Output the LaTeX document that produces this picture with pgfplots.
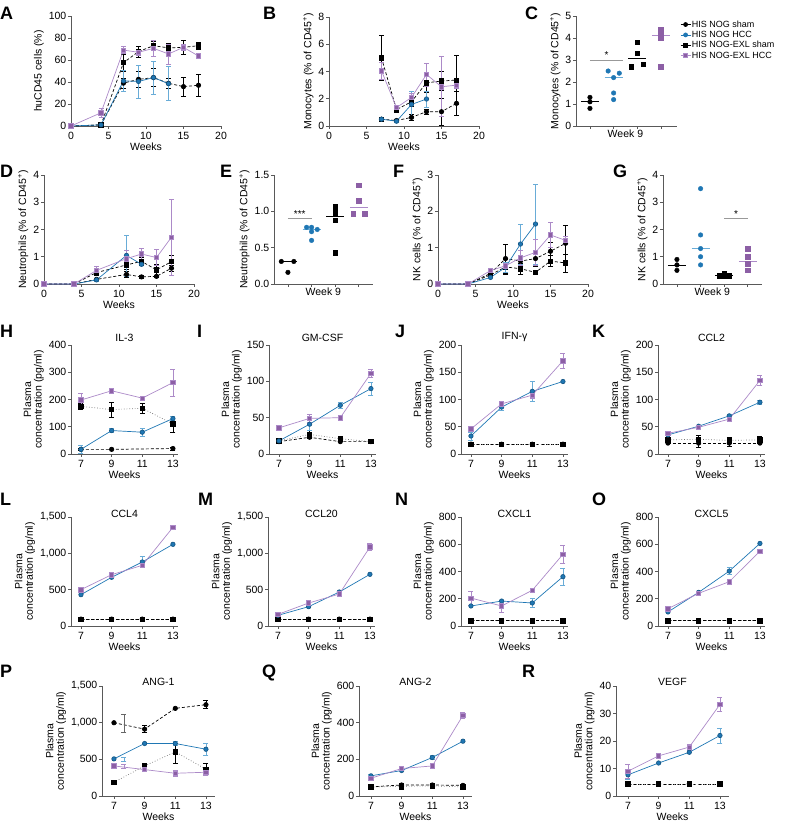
\documentclass[border=0pt]{standalone}
\usepackage{pgfplots}
\pgfplotsset{compat=1.18}
\usepackage{fontspec}
\setmainfont{Liberation Sans}
\definecolor{bl}{RGB}{31,119,180}
\definecolor{blL}{RGB}{105,172,215}
\definecolor{pu}{RGB}{140,95,165}
\definecolor{puL}{RGB}{172,138,200}
\newcommand{\fs}[1]{\fontsize{#1}{#1}\selectfont}
\pgfplotsset{
 base/.style={scale only axis, anchor=south west, clip=false,
   axis x line*=bottom, axis y line*=left,
   axis line style={black!65, line width=0.7pt},
   every tick/.style={black!65, line width=0.7pt},
   tick align=outside, major tick length=3pt,
   tick label style={font=\fs{10.5}},
   every y tick label/.append style={inner sep=1.5pt},
   label style={font=\fs{10.5}},
   title style={font=\fs{10.5}, yshift=-6.5pt},
   /pgf/number format/assume math mode=true,
   /pgf/number format/1000 sep={,},
   scaled y ticks=false, ymin=0,
   xlabel style={yshift=4pt},
 },
 tc/.style={base, width=150pt, height=109pt, xmin=0, xmax=20, xtick={0,5,10,15,20}, xlabel={Weeks}},
 pc/.style={base, width=107pt, height=109pt, xmin=6.35, xmax=13.33, xtick={7,9,11,13}, xlabel={Weeks}, ylabel={Plasma\\concentration (pg/ml)}, ylabel style={align=center}},
 pc5/.style={pc, width=113pt, height=110pt, xmin=6.22, xmax=13.59},
 sc/.style={base, width=99pt, height=109pt, xmin=0.41, xmax=4.6, xtick={1,2,3,4}, xticklabels={}, extra x ticks={2.5}, extra x tick labels={Week 9}, extra x tick style={major tick length=0pt}},
 eb/.style={error bars/y dir=both, error bars/y explicit, error bars/error bar style={solid, line width=0.6pt, #1}, error bars/error mark options={rotate=90, mark size=2.5pt, line width=0.6pt, solid, #1}},
 g1/.style={black, line width=0.7pt, dash pattern=on 3pt off 2pt, mark=*, mark size=2.2pt, mark options={solid, fill=black}, eb=black},
 g2/.style={bl, line width=0.7pt, mark=*, mark size=2.2pt, mark options={solid, fill=bl, draw=bl!75!black}, eb=blL},
 g3/.style={black, line width=0.7pt, dash pattern=on 3pt off 2pt, mark=square*, mark size=2.2pt, mark options={solid, fill=black}, eb=black},
 g3d/.style={black!55, line width=0.7pt, dotted, mark=square*, mark size=2.2pt, mark options={solid, fill=black, draw=black}, eb=black},
 g4/.style={puL, line width=0.7pt, mark=square*, mark size=2.2pt, mark options={solid, fill=pu, draw=puL}, eb=puL},
 ge/.style={only marks, mark=*, mark size=0pt, mark options={draw=none, fill=none}, eb=#1},
 m1/.style={only marks, mark=*, mark size=2.3pt, black},
 m2/.style={only marks, mark=*, mark size=2.3pt, bl, mark options={fill=bl}},
 m3/.style={only marks, mark=square*, mark size=2.3pt, black},
 m4/.style={only marks, mark=square*, mark size=2.3pt, pu, mark options={fill=pu, draw=pu}},
 med/.style={line width=0.8pt, no marks, forget plot},
 sig/.style={black!40, line width=0.7pt, no marks, forget plot},
}
\begin{document}
\begin{tikzpicture}
\useasboundingbox (0,0) rectangle (787pt,833pt);
% ---------------- A
\begin{axis}[tc, at={(71pt,707pt)}, height=110pt, ymax=100, ytick={0,20,...,100}, ylabel={huCD45 cells (\%)}]
\addplot[g1] coordinates {(0,0) (4,1) (7,39) +- (0,4.5) (9,42.4) +- (0,7) (11,44) +- (0,8) (13,38.8) +- (0,4.5) (15,35.8) +- (0,8.8) (17,37) +- (0,10)};
\addplot[g3] coordinates {(0,0) (4,1) (7,57.6) +- (0,8) (9,67.6) +- (0,5) (11,73) +- (0,4) (13,71) +- (0,4) (15,71.5) +- (0,6) (17,73) +- (0,3.5)};
\addplot[g2] coordinates {(0,0) (4,1) (7,41) +- (0,9.5) (9,40.5) +- (0,15) (11,44) +- (0,15) (13,38.5) +- (0,15.5)};
\addplot[g4] coordinates {(0,0) (4,12) +- (0,4) (7,69) +- (0,3) (9,67) +- (0,3) (11,70.6) +- (0,7) (13,65.5) +- (0,9) (15,71.5) +- (0,3) (17,63.6) +- (0,2)};
\end{axis}
% ---------------- B
\begin{axis}[tc, at={(329pt,707pt)}, ymax=8, ytick={0,2,...,8}, ylabel={Monocytes (\% of CD45\textsuperscript{+})}]
\addplot[g1] coordinates {(7,0.5) +- (0,0.15) (9,0.4) +- (0,0.1) (11,0.63) +- (0,0.2) (13,1.05) +- (0,0.2) (15,1.05) +- (0,1.0) (17,1.66) +- (0,0.9)};
\addplot[g3] coordinates {(7,5.0) +- (0,1.65) (9,1.2) +- (0,0.2) (11,1.78) +- (0,0.3) (13,3.17) +- (0,0.7) (15,3.3) +- (0,0.7) (17,3.37) +- (0,1.8)};
\addplot[g2] coordinates {(7,0.5) +- (0,0.1) (9,0.35) +- (0,0.1) (11,1.58) +- (0,1.0) (13,1.98) +- (0,0.6)};
\addplot[g4] coordinates {(7,4.05) +- (0,0.6) (9,1.35) +- (0,0.2) (11,2.1) +- (0,0.3) (13,3.78) +- (0,0.85) (15,2.88) +- (0,2.2) (17,3.0) +- (0,0.25)};
\end{axis}
% ---------------- C
\begin{axis}[sc, at={(576pt,707pt)}, width=101pt, height=110pt, xmax=4.68, ymax=5, ytick={0,...,5}, ylabel={Monocytes (\% of CD45\textsuperscript{+})},
  legend style={at={(1.03,0.97)}, anchor=north west, draw=none, fill=none, font=\fs{9}, inner sep=0pt, row sep=0.5pt, nodes={inner sep=1pt}},
  legend cell align=left,
  legend image code/.code={\draw[mark repeat=2,mark phase=2,#1] plot coordinates {(0pt,0pt) (5pt,0pt) (10pt,0pt)};}]
\addlegendimage{black, line width=0.7pt, mark=*, mark size=2pt, mark options={fill=black}}
\addlegendimage{bl, line width=0.7pt, mark=*, mark size=2pt, mark options={fill=bl}}
\addlegendimage{black, line width=0.7pt, mark=square*, mark size=2pt, mark options={fill=black}}
\addlegendimage{puL, line width=0.7pt, mark=square*, mark size=2pt, mark options={fill=pu, draw=puL}}
\legend{HIS NOG sham, HIS NOG HCC, HIS NOG-EXL sham, HIS NOG-EXL HCC}
\addplot[m1] coordinates {(1,1.3) (1,1.1) (1,0.8)};
\addplot[m2] coordinates {(1.77,2.5) (2.24,2.4) (2,2.2) (2,1.5) (2,1.2)};
\addplot[m3] coordinates {(3,3.8) (3,3.3) (2.75,2.7) (3.25,2.8)};
\addplot[m4] coordinates {(4,4.4) (4,4.2) (4,4.0) (4,2.7)};
\addplot[med, black] coordinates {(0.62,1.1) (1.38,1.1)};
\addplot[med, blL] coordinates {(1.62,2.2) (2.38,2.2)};
\addplot[med, black] coordinates {(2.62,3.05) (3.38,3.05)};
\addplot[med, puL] coordinates {(3.62,4.1) (4.38,4.1)};
\addplot[sig] coordinates {(1,3.0) (2.38,3.0)};
\node[font=\fs{10}, anchor=south, inner sep=1pt] at (axis cs:1.7,3.0) {*};
\end{axis}
% ---------------- D
\begin{axis}[tc, at={(44pt,549pt)}, ymax=4, ytick={0,...,4}, ylabel={Neutrophils (\% of CD45\textsuperscript{+})}]
\addplot[g1] coordinates {(0,0) (4,0) (7,0.17) (11,0.35) +- (0,0.1) (13,0.26) +- (0,0.05) (15,0.28) +- (0,0.05) (17,0.58) +- (0,0.1)};
\addplot[g3] coordinates {(0,0) (4,0) (7,0.42) +- (0,0.1) (11,0.7) +- (0,0.15) (13,0.83) +- (0,0.15) (15,0.52) +- (0,0.2) (17,0.82) +- (0,0.23)};
\addplot[g2] coordinates {(0,0) (4,0) (7,0.15) +- (0,0.05) (11,1.05) +- (0,0.75) (13,0.72)};
\addplot[g4] coordinates {(0,0) (4,0) (7,0.5) +- (0,0.15) (11,0.93) +- (0,0.3) (13,1.1) +- (0,0.2) (15,0.97) +- (0,0.3) (17,1.72) +- (0,1.4)};
\end{axis}
% ---------------- E
\begin{axis}[sc, at={(274pt,549pt)}, ymax=1.5, ytick={0,0.5,1,1.5}, yticklabel style={/pgf/number format/.cd, fixed, fixed zerofill, precision=1}, ylabel={Neutrophils (\% of CD45\textsuperscript{+})}]
\addplot[m1] coordinates {(0.72,0.31) (1.25,0.31) (1,0.16)};
\addplot[m2] coordinates {(1.79,0.78) (2,0.78) (2,0.72) (2.24,0.75) (2,0.6)};
\addplot[m3] coordinates {(3,1.06) (3,0.98) (3,0.88) (3,0.43)};
\addplot[m4] coordinates {(4,1.36) (4,1.15) (3.76,0.97) (4.24,0.97)};
\addplot[med, black] coordinates {(0.62,0.31) (1.38,0.31)};
\addplot[med, blL] coordinates {(1.62,0.75) (2.38,0.75)};
\addplot[med, black] coordinates {(2.62,0.93) (3.38,0.93)};
\addplot[med, puL] coordinates {(3.62,1.06) (4.38,1.06)};
\addplot[sig] coordinates {(1,0.9) (2,0.9)};
\node[font=\fs{10}, anchor=south, inner sep=1pt] at (axis cs:1.5,0.9) {***};
\end{axis}
% ---------------- F
\begin{axis}[tc, at={(438pt,549pt)}, ymax=3, ytick={0,...,3}, ylabel={NK cells (\% of CD45\textsuperscript{+})}]
\addplot[g1] coordinates {(0,0) (4,0) (7,0.29) (9,0.7) +- (0,0.4) (11,0.63) +- (0,0.15) (13,0.7) +- (0,0.2) (15,0.9) +- (0,0.25) (17,1.12) +- (0,0.5)};
\addplot[g3] coordinates {(0,0) (4,0) (7,0.25) (9,0.47) +- (0,0.2) (11,0.42) +- (0,0.15) (13,0.32) (15,0.63) +- (0,0.15) (17,0.58) +- (0,0.25)};
\addplot[g2] coordinates {(0,0) (4,0) (7,0.18) (9,0.46) +- (0,0.15) (11,1.1) +- (0,0.55) (13,1.65) +- (0,1.1)};
\addplot[g4] coordinates {(0,0) (4,0) (7,0.37) (9,0.5) (11,0.72) +- (0,0.2) (13,0.87) +- (0,0.35) (15,1.35) +- (0,0.35) (17,1.2) +- (0,0.1)};
\end{axis}
% ---------------- G
\begin{axis}[sc, at={(663pt,549pt)}, ymax=4, ytick={0,...,4}, ylabel={NK cells (\% of CD45\textsuperscript{+})}]
\addplot[m1] coordinates {(1,0.9) (1,0.7) (1,0.5)};
\addplot[m2] coordinates {(2,3.5) (2,1.8) (2,1.3) (2,1.0) (2,0.7)};
\addplot[m3] coordinates {(2.8,0.3) (3,0.38) (3,0.3) (3.2,0.3)};
\addplot[m4] coordinates {(4,1.3) (4,1.0) (4,0.75) (4,0.5)};
\addplot[med, black] coordinates {(0.62,0.7) (1.38,0.7)};
\addplot[med, blL] coordinates {(1.62,1.3) (2.38,1.3)};
\addplot[med, black] coordinates {(2.62,0.3) (3.38,0.3)};
\addplot[med, puL] coordinates {(3.62,0.83) (4.38,0.83)};
\addplot[sig] coordinates {(3,2.4) (4,2.4)};
\node[font=\fs{10}, anchor=south, inner sep=1pt] at (axis cs:3.5,2.4) {*};
\end{axis}
% ---------------- H
\begin{axis}[pc, at={(71pt,379pt)}, title={IL-3}, ymax=400, ytick={0,100,...,400}]
\addplot[g1] coordinates {(7,17) +- (0,5) (9,17) (13,20) +- (0,5)};
\addplot[g3d] coordinates {(7,175) +- (0,10) (9,163) +- (0,28) (11,168) +- (0,18) (13,110) +- (0,30)};
\addplot[g2] coordinates {(7,17) +- (0,15) (9,86) +- (0,8) (11,80) +- (0,15) (13,130) +- (0,8)};
\addplot[g4] coordinates {(7,198) +- (0,25) (9,232) +- (0,8) (11,205) +- (0,4) (13,262) +- (0,50)};
\end{axis}
% ---------------- I
\begin{axis}[pc, at={(269pt,379pt)}, title={GM-CSF}, ymax=150, ytick={0,50,100,150}]
\addplot[g1] coordinates {(7,17) (9,23) (11,17) (13,17)};
\addplot[g3d] coordinates {(7,18) (9,27) +- (0,6) (11,21) (13,17)};
\addplot[g2] coordinates {(7,18) (9,41) +- (0,8) (11,67) +- (0,4) (13,90) +- (0,9)};
\addplot[g4] coordinates {(7,36) (9,49) +- (0,5) (11,50) (13,111) +- (0,6)};
\end{axis}
% ---------------- J
\begin{axis}[pc, at={(461pt,379pt)}, title={IFN-γ}, ymax=200, ytick={0,50,...,200}]
\addplot[g1] coordinates {(7,18) (9,18) (11,18) (13,18)};
\addplot[g3d] coordinates {(7,18) (9,18) (11,18) (13,18)};
\addplot[g2] coordinates {(7,33) +- (0,7) (9,86) +- (0,5) (11,115) +- (0,19) (13,133)};
\addplot[g4] coordinates {(7,46) (9,92) (11,108) +- (0,5) (13,171) +- (0,13)};
\end{axis}
% ---------------- K
\begin{axis}[pc, at={(658pt,379pt)}, title={CCL2}, ymax=200, ytick={0,50,...,200}]
\addplot[g1] coordinates {(7,20) (9,20) +- (0,8) (11,20) +- (0,6) (13,20)};
\addplot[g3d] coordinates {(7,26) (9,27) +- (0,8) (11,25) +- (0,5) (13,26) +- (0,7)};
\addplot[g2] coordinates {(7,35) (9,51) (11,70) +- (0,3) (13,95) +- (0,4)};
\addplot[g4] coordinates {(7,38) (9,49) (11,64) +- (0,4) (13,135) +- (0,9)};
\end{axis}
% ---------------- L
\begin{axis}[pc, at={(71pt,207pt)}, title={CCL4}, title style={yshift=-4pt}, ymax=1500, ytick={0,500,1000,1500}]
\addplot[g3d] coordinates {(7,95) (9,95) (11,95) (13,95)};
\addplot[g1] coordinates {(7,95) (9,95) (11,95) (13,95)};
\addplot[g2] coordinates {(7,431) (9,670) (11,881) +- (0,80) (13,1124)};
\addplot[g4] coordinates {(7,500) (9,706) (11,835) (13,1358) +- (0,30)};
\end{axis}
% ---------------- M
\begin{axis}[pc, at={(268pt,207pt)}, title={CCL20}, title style={yshift=-4pt}, ymax=1500, ytick={0,500,1000,1500}]
\addplot[g3d] coordinates {(7,95) (9,95) (11,95) (13,95)};
\addplot[g1] coordinates {(7,95) (9,95) (11,95) (13,95)};
\addplot[g2] coordinates {(7,147) (9,266) (11,468) (13,711)};
\addplot[g4] coordinates {(7,160) (9,316) (11,440) (13,1087) +- (0,45)};
\end{axis}
% ---------------- N
\begin{axis}[pc, at={(461pt,207pt)}, title={CXCL1}, title style={yshift=-4pt}, ymax=800, ytick={0,200,...,800}]
\addplot[g3d] coordinates {(7,38) (9,38) (11,38) (13,38)};
\addplot[g1] coordinates {(7,38) (9,38) (11,38) (13,38)};
\addplot[g2] coordinates {(7,147) (9,183) (11,169) +- (0,35) (13,362) +- (0,65)};
\addplot[g4] coordinates {(7,205) +- (0,50) (9,147) +- (0,45) (11,262) (13,526) +- (0,65)};
\end{axis}
% ---------------- O
\begin{axis}[pc, at={(658pt,207pt)}, title={CXCL5}, title style={yshift=-4pt}, ymax=800, ytick={0,200,...,800}]
\addplot[g3d] coordinates {(7,38) (9,38) (11,38) (13,38)};
\addplot[g1] coordinates {(7,38) (9,38) (11,38) (13,38)};
\addplot[g2] coordinates {(7,103) (9,247) (11,403) +- (0,25) (13,606)};
\addplot[g4] coordinates {(7,127) (9,240) (11,325) (13,550)};
\end{axis}
% ---------------- P
\begin{axis}[pc5, at={(102pt,37pt)}, title={ANG-1}, title style={yshift=-3pt}, ymax=1500, ytick={0,500,1000,1500}]
\addplot[g1] coordinates {(7,999) (9,912) +- (0,50) (11,1195) (13,1245) +- (0,55)};
\addplot[g3d] coordinates {(7,187) (9,410) +- (0,40) (11,602) +- (0,150) (13,365) +- (0,80)};
\addplot[g2] coordinates {(7,506) (9,716) (11,716) +- (0,30) (13,638) +- (0,80)};
\addplot[g4] coordinates {(7,410) +- (0,20) (9,360) (11,310) +- (0,40) (13,324) +- (0,40)};
\addplot[ge=black!60] coordinates {(7.65,995) +- (0,125)};
\addplot[ge=blL] coordinates {(7.65,500) +- (0,25)};
\addplot[ge=puL] coordinates {(7.65,405) +- (0,25)};
\end{axis}
% ---------------- Q
\begin{axis}[pc5, at={(359pt,37pt)}, title={ANG-2}, title style={yshift=-3pt}, ymax=600, ytick={0,200,400,600}]
\addplot[g1] coordinates {(7,50) (9,60) (11,60) (13,58)};
\addplot[g3d] coordinates {(7,49) (9,53) +- (0,15) (11,55) +- (0,10) (13,50) +- (0,15)};
\addplot[g2] coordinates {(7,110) +- (0,10) (9,139) (11,210) +- (0,10) (13,299)};
\addplot[g4] coordinates {(7,97) (9,150) (11,164) +- (0,8) (13,440) +- (0,15)};
\end{axis}
% ---------------- R
\begin{axis}[pc5, at={(616pt,37pt)}, title={VEGF}, title style={yshift=-3pt}, ymax=40, ytick={0,10,...,40}]
\addplot[g1] coordinates {(7,4.4) (9,4.4) (11,4.4) (13,4.4)};
\addplot[g3d] coordinates {(7,4.4) (9,4.4) (11,4.4) (13,4.4)};
\addplot[g2] coordinates {(7,7.7) +- (0,1.5) (9,12) (11,15.9) (13,22) +- (0,2.7)};
\addplot[g4] coordinates {(7,9.0) +- (0,2.5) (9,14.6) (11,17.8) +- (0,1) (13,33.3) +- (0,2.5)};
\end{axis}
% ---------------- panel letters
\begin{scope}[every node/.style={anchor=north west, inner sep=0pt, font=\fs{18}\bfseries}]
\node at (0pt,826pt) {A};
\node at (263pt,826pt) {B};
\node at (525pt,826pt) {C};
\node at (0pt,668pt) {D};
\node at (220pt,668pt) {E};
\node at (393pt,668pt) {F};
\node at (613pt,668pt) {G};
\node at (0pt,508pt) {H};
\node at (197pt,508pt) {I};
\node at (395pt,508pt) {J};
\node at (592pt,508pt) {K};
\node at (0pt,340pt) {L};
\node at (198pt,340pt) {M};
\node at (395pt,340pt) {N};
\node at (592pt,340pt) {O};
\node at (0pt,168pt) {P};
\node at (262pt,168pt) {Q};
\node at (522pt,168pt) {R};
\end{scope}
\end{tikzpicture}
\end{document}
